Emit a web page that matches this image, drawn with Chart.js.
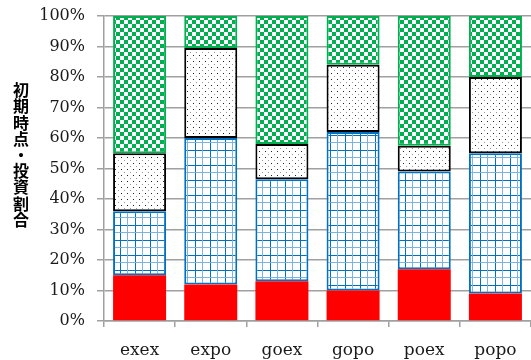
<!DOCTYPE html>
<html>
<head>
<meta charset="utf-8">
<script src="https://cdn.jsdelivr.net/npm/chart.js@4"></script>
<style>
  html, body { margin: 0; padding: 0; background: #fff; }
  #wrap { width: 531px; height: 360px; position: relative; }
</style>
</head>
<body>
<div id="wrap"><canvas id="c" width="531" height="360"></canvas></div>
<script>
// Categories and stacked shares (percent of the initial investment)
const categories = ['exex', 'expo', 'goex', 'gopo', 'poex', 'popo'];
const share1 = [15, 12, 13, 10, 17, 9];
const share2 = [21, 48, 33.5, 52, 32, 46];
const share3 = [19, 29.5, 11.5, 22, 8.5, 25];
const share4 = [45, 10.5, 42, 16, 42.5, 20];
const yTicks = [0, 10, 20, 30, 40, 50, 60, 70, 80, 90, 100];
const yTitle = '初期時点・投資割合';

// Fill patterns
function makeTile(w, h, paint) {
  const cv = document.createElement('canvas');
  cv.width = w; cv.height = h;
  const g = cv.getContext('2d');
  paint(g);
  return g.createPattern(cv, 'repeat');
}
const ctx0 = document.getElementById('c').getContext('2d');

const gridFill = makeTile(15, 15, g => {
  g.fillStyle = '#fff'; g.fillRect(0, 0, 15, 15);
  g.fillStyle = '#0070C0';
  g.fillRect(0, 0, 1, 15); g.fillRect(0, 0, 15, 1);
  g.fillStyle = '#7DB3E0';
  g.fillRect(7, 0, 1, 15); g.fillRect(0, 7, 15, 1);
});
const dotFill = makeTile(6, 6, g => {
  g.fillStyle = '#fff'; g.fillRect(0, 0, 6, 6);
  g.fillStyle = '#222'; g.fillRect(1, 1, 1, 1);
  g.fillStyle = '#999'; g.fillRect(4, 4, 1, 1);
});
const checkFill = makeTile(8, 8, g => {
  g.fillStyle = '#00B050'; g.fillRect(0, 0, 8, 8);
  g.fillStyle = '#fff';
  g.fillRect(0, 0, 4, 4); g.fillRect(4, 4, 4, 4);
});

const gray = '#A0A0A0';
const serif = "'DejaVu Serif', 'Liberation Serif', serif";

// Vertical, upright axis title drawn one character per line
const verticalTitle = {
  id: 'verticalTitle',
  afterDraw(chart) {
    const c = chart.ctx;
    c.save();
    c.fillStyle = '#000';
    c.font = "bold 16px 'Noto Sans CJK JP', sans-serif";
    c.textAlign = 'center';
    c.textBaseline = 'middle';
    const chars = Array.from(yTitle);
    const step = 16.2;
    const cy = 155;
    const y0 = cy - step * (chars.length - 1) / 2;
    chars.forEach((ch, i) => c.fillText(ch, 21, y0 + i * step));
    c.restore();
  }
};

const common = { borderSkipped: false, barPercentage: 0.745, categoryPercentage: 1 };

new Chart(ctx0, {
  type: 'bar',
  data: {
    labels: categories,
    datasets: [
      { label: '系列1', data: share1, backgroundColor: '#FF0000', borderWidth: 0, ...common },
      { label: '系列2', data: share2, backgroundColor: gridFill, borderColor: '#0070C0', borderWidth: 2, ...common },
      { label: '系列3', data: share3, backgroundColor: dotFill, borderColor: '#000', borderWidth: 2, ...common },
      { label: '系列4', data: share4, backgroundColor: checkFill, borderColor: '#00B050', borderWidth: 2, ...common }
    ]
  },
  options: {
    responsive: false,
    animation: false,
    layout: { padding: { top: 16, left: 0, right: 0, bottom: 0 } },
    plugins: { legend: { display: false }, tooltip: { enabled: false }, title: { display: false } },
    scales: {
      x: {
        stacked: true,
        grid: { drawOnChartArea: false, drawTicks: true, tickLength: 6, color: gray, lineWidth: 1.5 },
        border: { display: true, color: gray, width: 1.5 },
        ticks: { color: '#1a1a1a', font: { family: serif, size: 17 }, padding: 13, maxRotation: 0 },
        afterFit(s) { s.height = 39; s.paddingLeft = 0; s.paddingRight = 0; }
      },
      y: {
        stacked: true,
        min: 0, max: 100,
        afterBuildTicks(s) { s.ticks = yTicks.map(v => ({ value: v })); },
        grid: { color: gray, lineWidth: 1.5, tickLength: 7 },
        border: { display: true, color: gray, width: 1.5 },
        ticks: { color: '#1a1a1a', font: { family: serif, size: 16 }, padding: 12, callback: v => v + '%' },
        afterFit(s) { s.width = 104; s.paddingTop = 0; s.paddingBottom = 0; }
      }
    }
  },
  plugins: [verticalTitle]
});
</script>
</body>
</html>
